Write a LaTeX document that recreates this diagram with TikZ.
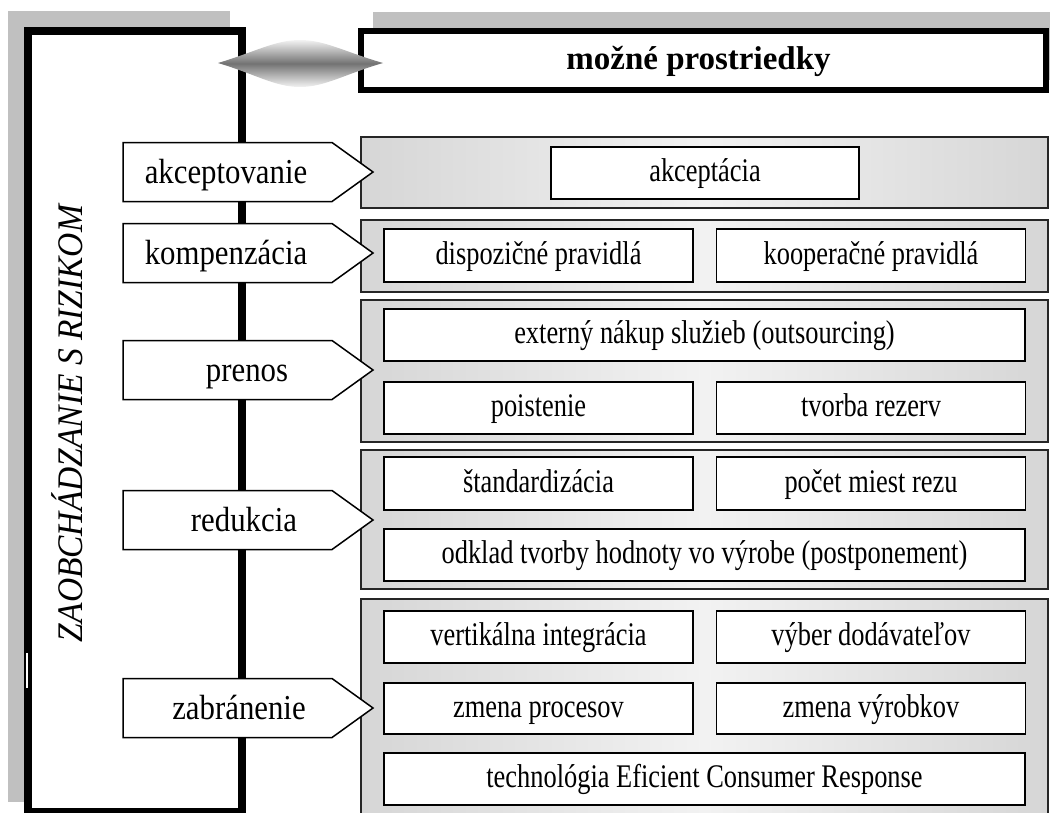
\documentclass[tikz,border=0pt]{standalone}
\usepackage{fontspec}
\setmainfont{Liberation Serif}
\newfontfamily\condfont[FakeStretch=0.8]{Liberation Serif}
\newfontfamily\lblfont[FakeStretch=0.88]{Liberation Serif}
\newfontfamily\ttlfont[FakeStretch=0.93]{Liberation Serif}
\definecolor{shadowgray}{HTML}{C0C0C0}
\definecolor{panelgray}{HTML}{D6D6D6}
\definecolor{panellight}{HTML}{F2F2F2}
\begin{document}
\begin{tikzpicture}[x=1pt,y=-1pt,
  panel/.style={draw=black!85, line width=1.8pt, left color=panelgray, right color=panelgray, middle color=panellight, minimum width=687pt, inner sep=0pt},
  ibox/.style={draw=black, line width=1.8pt, fill=white, inner sep=0pt, text height=25pt, text depth=8pt, font=\condfont\fontsize{33}{36}\selectfont},
  half/.style={ibox, minimum width=309pt},
  full/.style={ibox, minimum width=641pt},
  arrowshape/.style={draw=black, line width=1.5pt, fill=white, line join=miter},
  lbl/.style={inner sep=0pt, text height=28pt, text depth=6pt, font=\lblfont\fontsize{35}{40}\selectfont}]
\useasboundingbox (0,0) rectangle (1050,812);
\clip (0,0) rectangle (1050,812);
% left frame with shadow
\fill[shadowgray] (8,11) rectangle (230,802);
\draw[line width=8pt, fill=white] (28,31) rectangle (242,812);
\draw[white, line width=2pt] (27,653) -- (27,688);
\node[rotate=90, anchor=base, inner sep=0pt, font=\ttlfont\itshape\fontsize{36}{40}\selectfont] (side) at (82,423.5) {ZAOBCHÁDZANIE S RIZIKOM};
% top right box with shadow
\fill[shadowgray] (373,12) rectangle (1070,80);
\node[draw, line width=5.5pt, fill=white, minimum width=685pt, minimum height=59pt, inner sep=0pt, text height=25pt, text depth=8pt, font=\bfseries\fontsize{33}{36}\selectfont] (title) at (703.5,60.5) {\hspace*{-10pt}možné prostriedky};
% panels
\node[panel, minimum height=71pt] (p1) at (704.5,172.5) {};
\node[panel, minimum height=72pt] (p2) at (704.5,256) {};
\node[panel, minimum height=142pt] (p3) at (704.5,371) {};
\node[panel, minimum height=139pt] (p4) at (704.5,519.5) {};
\node[panel, minimum height=231pt] (p5) at (704.5,714.5) {};
% inner boxes
\node[ibox, minimum width=308pt, minimum height=52pt] (b1) at (705,173) {akceptácia};
\node[half, minimum height=53pt] (b2a) at (538.5,255.5) {dispozičné pravidlá};
\node[half, minimum height=53pt] (b2b) at (871,255.5) {kooperačné pravidlá};
\node[full, minimum height=52pt] (b3a) at (704.5,335) {externý nákup služieb (outsourcing)};
\node[half, minimum height=52pt] (b3b) at (538.5,408) {poistenie};
\node[half, minimum height=52pt] (b3c) at (871,408) {tvorba rezerv};
\node[half, minimum height=53pt] (b4a) at (538.5,483.5) {štandardizácia};
\node[half, minimum height=53pt] (b4b) at (871,483.5) {počet miest rezu};
\node[full, minimum height=52pt] (b4c) at (704.5,555) {odklad tvorby hodnoty vo výrobe (postponement)};
\node[half, minimum height=52pt] (b5a) at (538.5,637) {vertikálna integrácia};
\node[half, minimum height=52pt] (b5b) at (871,637) {výber dodávateľov};
\node[half, minimum height=51pt] (b5c) at (538.5,708.5) {zmena procesov};
\node[half, minimum height=51pt] (b5d) at (871,708.5) {zmena výrobkov};
\node[full, minimum height=52pt] (b5e) at (704.5,779) {technológia Eficient Consumer Response};
% arrows
\foreach \y/\t/\tx/\n in {172/akceptovanie/226/a1, 253/kompenzácia/226/a2, 370/prenos/247/a3, 520/redukcia/244/a4, 708/zabránenie/239/a5}{
  \draw[arrowshape] (123,\y-29.5) -- (332,\y-29.5) -- (373,\y) -- (332,\y+29.5) -- (123,\y+29.5) -- cycle;
  \node[lbl] (\n) at (\tx,\y) {\t};
}
% connecting lens
\shade[top color=black!5, bottom color=black!5, middle color=black!55]
  (218,63) .. controls (255,52) and (275,40) .. (300,40)
  .. controls (325,40) and (345,52) .. (383,63)
  .. controls (345,74) and (325,87) .. (300,87)
  .. controls (275,87) and (255,74) .. (218,63) -- cycle;
\end{tikzpicture}
\end{document}
